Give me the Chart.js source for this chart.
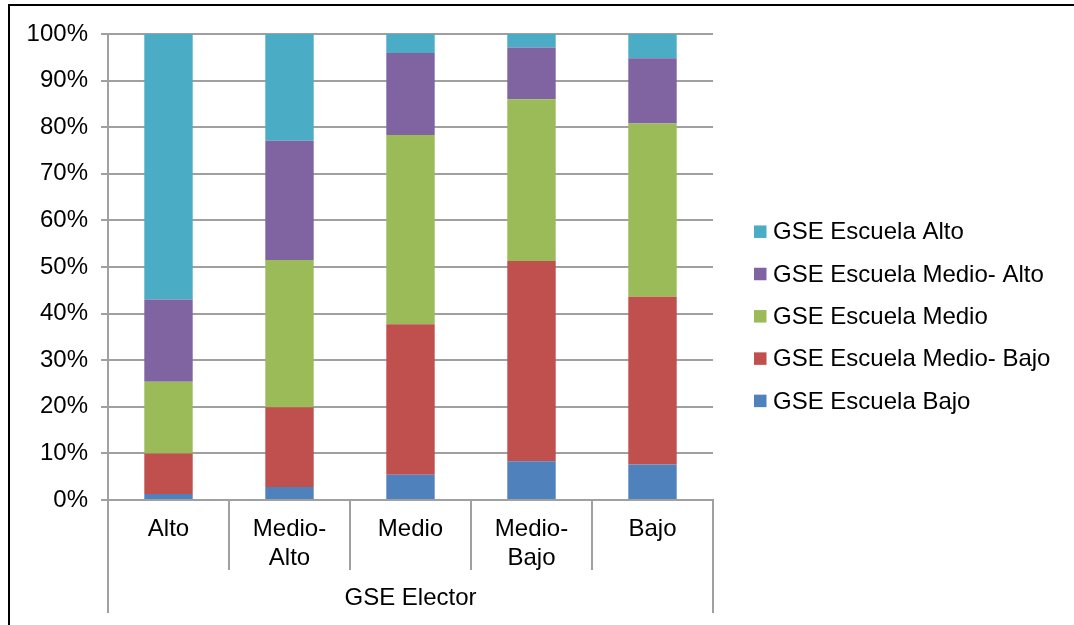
<!DOCTYPE html>
<html>
<head>
<meta charset="utf-8">
<script src="https://cdn.jsdelivr.net/npm/chart.js@4/dist/chart.umd.min.js"></script>
<style>
  html, body { margin: 0; padding: 0; background: #ffffff; }
  #wrap { width: 1074px; height: 625px; position: relative; }
</style>
</head>
<body>
<div id="wrap"><canvas id="chart" width="1074" height="625"></canvas></div>
<script>
// Categories (GSE del elector) and stacked shares per school GSE, in percent
const categories = [['Alto'], ['Medio-', 'Alto'], ['Medio'], ['Medio-', 'Bajo'], ['Bajo']];
const escuelaBajo      = [1.3, 2.8, 5.4, 8.3, 7.6];
const escuelaMedioBajo = [8.7, 17.1, 32.3, 43.0, 36.0];
const escuelaMedio     = [15.4, 31.6, 40.6, 34.7, 37.2];
const escuelaMedioAlto = [17.6, 25.6, 17.6, 11.1, 14.0];
const escuelaAlto      = [57.0, 22.9, 4.1, 2.9, 5.2];
const seriesNames = ['GSE Escuela Bajo', 'GSE Escuela Medio- Bajo', 'GSE Escuela Medio', 'GSE Escuela Medio- Alto', 'GSE Escuela Alto'];
const seriesColors = ['#4F81BD', '#C0504D', '#9BBB59', '#8064A2', '#4BACC6'];
const yTicks = [0, 10, 20, 30, 40, 50, 60, 70, 80, 90, 100];
const axisTitle = 'GSE Elector';

const FONT = '"Liberation Sans", Arial, Helvetica, sans-serif';
const FONT_SIZE = 24;
const AXIS_GREY = '#a0a0a0';

const seriesValues = [escuelaBajo, escuelaMedioBajo, escuelaMedio, escuelaMedioAlto, escuelaAlto];

// Black frame along the top and left edges
const framePlugin = {
  id: 'frame',
  afterDraw(chart) {
    const ctx = chart.ctx;
    ctx.save();
    ctx.fillStyle = '#000';
    ctx.fillRect(8, 4, chart.width - 8, 2);
    ctx.fillRect(8, 4, 2, chart.height - 4);
    ctx.restore();
  }
};

// Outer category separators run down past the title row
const axisExtensionPlugin = {
  id: 'axisExtension',
  afterDraw(chart) {
    const { ctx, chartArea } = chart;
    const x = chart.scales.x;
    const bottom = chartArea.bottom + 113;
    ctx.save();
    ctx.strokeStyle = AXIS_GREY;
    ctx.lineWidth = 2;
    ctx.beginPath();
    ctx.moveTo(x.left, chartArea.bottom);
    ctx.lineTo(x.left, bottom);
    ctx.moveTo(x.right, chartArea.bottom);
    ctx.lineTo(x.right, bottom);
    ctx.stroke();
    ctx.restore();
  }
};

// Legend on the right, listed top-down from the uppermost stack segment
const sideLegendPlugin = {
  id: 'sideLegend',
  afterDraw(chart) {
    const ctx = chart.ctx;
    const sets = chart.data.datasets.slice().reverse();
    const boxX = chart.chartArea.right + 41;
    const textX = boxX + 19;
    const rowGap = 42.3;
    const firstY = 231.7;
    const box = 12.5;
    ctx.save();
    ctx.font = FONT_SIZE + 'px ' + FONT;
    ctx.textBaseline = 'middle';
    ctx.textAlign = 'left';
    sets.forEach((ds, i) => {
      const cy = firstY + i * rowGap;
      ctx.fillStyle = ds.backgroundColor;
      ctx.fillRect(boxX, cy - box / 2, box, box);
      ctx.fillStyle = '#000';
      ctx.fillText(ds.label, textX, cy + 1);
    });
    ctx.restore();
  }
};

new Chart(document.getElementById('chart'), {
  type: 'bar',
  data: {
    labels: categories,
    datasets: seriesNames.map((name, i) => ({
      label: name,
      data: seriesValues[i],
      backgroundColor: seriesColors[i],
      borderWidth: 0,
      barPercentage: 0.4,
      categoryPercentage: 1.0
    }))
  },
  options: {
    responsive: false,
    animation: false,
    devicePixelRatio: 1,
    layout: { padding: { top: 34, right: 361, left: 0, bottom: 0 } },
    plugins: {
      legend: { display: false },
      tooltip: { enabled: false }
    },
    scales: {
      x: {
        stacked: true,
        offset: true,
        grid: {
          offset: true,
          drawOnChartArea: false,
          drawTicks: true,
          tickLength: 70,
          color: AXIS_GREY,
          lineWidth: 2
        },
        border: { display: true, color: AXIS_GREY, width: 2 },
        ticks: {
          color: '#000',
          font: { family: FONT, size: FONT_SIZE, lineHeight: 1.18 },
          padding: -54.5,
          maxRotation: 0,
          autoSkip: false
        },
        title: {
          display: true,
          text: axisTitle,
          color: '#000',
          font: { family: FONT, size: FONT_SIZE },
          padding: { top: 0, bottom: 12 }
        },
        afterFit(scale) { scale.height = 125; }
      },
      y: {
        stacked: true,
        min: 0,
        max: 100,
        afterBuildTicks(scale) { scale.ticks = yTicks.map(v => ({ value: v })); },
        grid: {
          color: AXIS_GREY,
          lineWidth: 2,
          drawTicks: true,
          tickLength: 7
        },
        border: { display: true, color: AXIS_GREY, width: 2 },
        ticks: {
          color: '#000',
          font: { family: FONT, size: FONT_SIZE },
          padding: 13,
          callback: v => v + '%'
        },
        afterFit(scale) { scale.width = 108; }
      }
    }
  },
  plugins: [framePlugin, axisExtensionPlugin, sideLegendPlugin]
});
</script>
</body>
</html>
